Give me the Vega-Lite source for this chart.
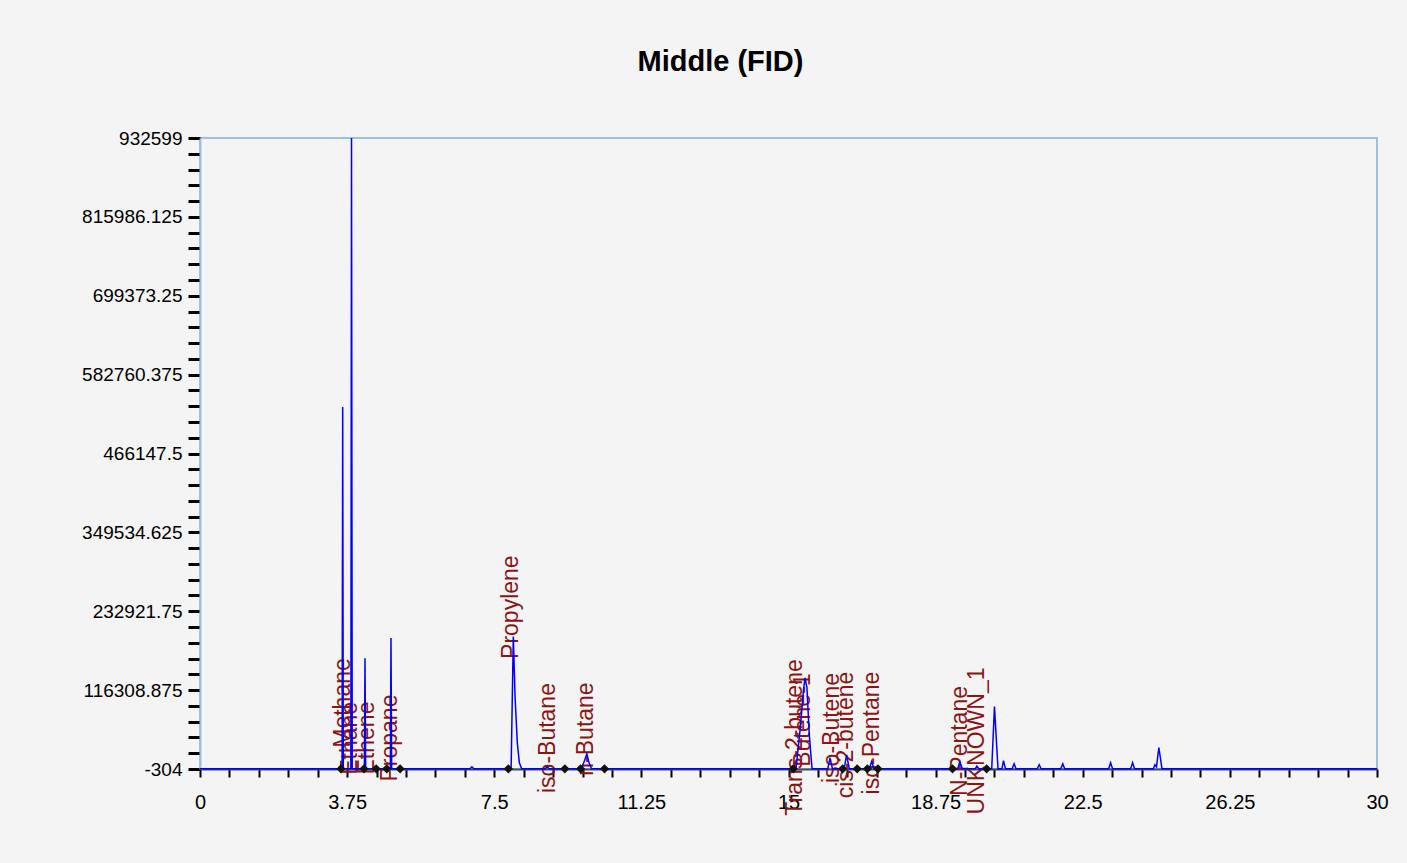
{
  "$schema": "https://vega.github.io/schema/vega-lite/v6.json",
  "width": 1177,
  "height": 631,
  "autosize": {"type": "none"},
  "padding": {"left": 200, "top": 138, "right": 30, "bottom": 94},
  "background": "#f4f4f4",
  "config": {"view": {"stroke": "#9dbfe0", "strokeWidth": 2, "fill": "#f4f4f4"}},
  "title": {
    "text": "Middle (FID)",
    "font": "Liberation Sans, Arial, sans-serif",
    "fontSize": 29,
    "fontWeight": "bold",
    "color": "#000000",
    "anchor": "middle",
    "dx": -68,
    "offset": 52
  },
  "datasets": {
    "trace": [
      {"t": 0, "v": 0},
      {"t": 3.58, "v": 0},
      {"t": 3.622, "v": 0},
      {"t": 3.637, "v": 535000},
      {"t": 3.652, "v": 0},
      {"t": 3.845, "v": 0},
      {"t": 3.862, "v": 932599},
      {"t": 3.88, "v": 0},
      {"t": 4.19, "v": 0},
      {"t": 4.206, "v": 163600},
      {"t": 4.222, "v": 0},
      {"t": 4.852, "v": 0},
      {"t": 4.868, "v": 193200},
      {"t": 4.885, "v": 0},
      {"t": 6.88, "v": 0},
      {"t": 6.93, "v": 3000},
      {"t": 6.98, "v": 0},
      {"t": 7.93, "v": 0},
      {"t": 7.986, "v": 195600},
      {"t": 8.03, "v": 106900},
      {"t": 8.088, "v": 38400},
      {"t": 8.14, "v": 8900},
      {"t": 8.2, "v": 0},
      {"t": 8.8, "v": 0},
      {"t": 8.85, "v": 3000},
      {"t": 8.9, "v": 0},
      {"t": 9.72, "v": 0},
      {"t": 9.8, "v": 12000},
      {"t": 9.86, "v": 22000},
      {"t": 9.92, "v": 8000},
      {"t": 9.98, "v": 0},
      {"t": 15.19, "v": 0},
      {"t": 15.3, "v": 60000},
      {"t": 15.38, "v": 115000},
      {"t": 15.42, "v": 134500},
      {"t": 15.47, "v": 120000},
      {"t": 15.53, "v": 50000},
      {"t": 15.6, "v": 0},
      {"t": 16.0, "v": 0},
      {"t": 16.06, "v": 16000},
      {"t": 16.12, "v": 0},
      {"t": 16.42, "v": 0},
      {"t": 16.48, "v": 20700},
      {"t": 16.55, "v": 0},
      {"t": 17.06, "v": 0},
      {"t": 17.12, "v": 10800},
      {"t": 17.18, "v": 0},
      {"t": 19.31, "v": 0},
      {"t": 19.37, "v": 10000},
      {"t": 19.43, "v": 0},
      {"t": 19.76, "v": 0},
      {"t": 19.8, "v": 4000},
      {"t": 19.85, "v": 0},
      {"t": 20.18, "v": 0},
      {"t": 20.25, "v": 92100},
      {"t": 20.34, "v": 0},
      {"t": 20.44, "v": 0},
      {"t": 20.48, "v": 12000},
      {"t": 20.53, "v": 0},
      {"t": 20.7, "v": 0},
      {"t": 20.75, "v": 7400},
      {"t": 20.8, "v": 0},
      {"t": 21.34, "v": 0},
      {"t": 21.39, "v": 6000},
      {"t": 21.44, "v": 0},
      {"t": 21.94, "v": 0},
      {"t": 21.99, "v": 7400},
      {"t": 22.04, "v": 0},
      {"t": 23.16, "v": 0},
      {"t": 23.21, "v": 8900},
      {"t": 23.26, "v": 0},
      {"t": 23.72, "v": 0},
      {"t": 23.77, "v": 8900},
      {"t": 23.82, "v": 0},
      {"t": 24.3, "v": 0},
      {"t": 24.34, "v": 5900},
      {"t": 24.38, "v": 3000},
      {"t": 24.44, "v": 31500},
      {"t": 24.52, "v": 0},
      {"t": 30, "v": 0}
    ],
    "marks": [
      {"t": 3.594, "v": 0},
      {"t": 4.18, "v": 0},
      {"t": 4.49, "v": 0},
      {"t": 4.76, "v": 0},
      {"t": 5.1, "v": 0},
      {"t": 7.86, "v": 0},
      {"t": 9.3, "v": 0},
      {"t": 9.7, "v": 0},
      {"t": 10.31, "v": 0},
      {"t": 15.12, "v": 0},
      {"t": 16.38, "v": 0},
      {"t": 16.75, "v": 0},
      {"t": 17.01, "v": 0},
      {"t": 17.28, "v": 0},
      {"t": 19.18, "v": 0},
      {"t": 20.05, "v": 0}
    ],
    "labels": [
      {"name": "Methane", "t": 3.645, "v": 97300},
      {"name": "Ethane", "t": 3.823, "v": 45000},
      {"name": "Ethene", "t": 4.257, "v": 45500},
      {"name": "Propane", "t": 4.843, "v": 45500},
      {"name": "Propylene", "t": 7.927, "v": 239000},
      {"name": "iso-Butane", "t": 8.87, "v": 45500},
      {"name": "n-Butane", "t": 9.839, "v": 58800},
      {"name": "Trans-2-butene", "t": 15.166, "v": 46300},
      {"name": "Butene-1", "t": 15.37, "v": 72000},
      {"name": "iso-Butene", "t": 16.109, "v": 60300},
      {"name": "cis-2-butene", "t": 16.466, "v": 50000},
      {"name": "iso-Pentane", "t": 17.129, "v": 52900},
      {"name": "N-Pentane", "t": 19.372, "v": 41100},
      {"name": "UNKNOWN_1", "t": 19.805, "v": 41100}
    ]
  },
  "encoding": {
    "x": {
      "field": "t",
      "type": "quantitative",
      "scale": {"domain": [0, 30], "nice": false, "zero": false},
      "axis": {
        "title": null,
        "grid": false,
        "values": [0, 0.75, 1.5, 2.25, 3, 3.75, 4.5, 5.25, 6, 6.75, 7.5, 8.25, 9, 9.75, 10.5, 11.25, 12, 12.75, 13.5, 14.25, 15, 15.75, 16.5, 17.25, 18, 18.75, 19.5, 20.25, 21, 21.75, 22.5, 23.25, 24, 24.75, 25.5, 26.25, 27, 27.75, 28.5, 29.25, 30],
        "labelExpr": "abs(datum.value / 3.75 - round(datum.value / 3.75)) < 0.0001 ? '' + datum.value : ''",
        "labelOverlap": false,
        "labelFlush": false,
        "domainColor": "#3d4d5d",
        "domainWidth": 2,
        "tickColor": "#000000",
        "tickWidth": 2,
        "tickSize": 8,
        "labelFont": "Liberation Sans, Arial, sans-serif",
        "labelFontSize": 20,
        "labelColor": "#000000",
        "labelPadding": 15
      }
    },
    "y": {
      "field": "v",
      "type": "quantitative",
      "scale": {"domain": [-304, 932599], "nice": false, "zero": false},
      "axis": {
        "title": null,
        "grid": false,
        "values": [-304, 23018.575, 46341.15, 69663.725, 92986.3, 116308.875, 139631.45, 162954.025, 186276.6, 209599.175, 232921.75, 256244.325, 279566.9, 302889.475, 326212.05, 349534.625, 372857.2, 396179.775, 419502.35, 442824.925, 466147.5, 489470.075, 512792.65, 536115.225, 559437.8, 582760.375, 606082.95, 629405.525, 652728.1, 676050.675, 699373.25, 722695.825, 746018.4, 769340.975, 792663.55, 815986.125, 839308.7, 862631.275, 885953.85, 909276.425, 932599],
        "labelExpr": "abs((datum.value + 304) / 116612.875 - round((datum.value + 304) / 116612.875)) < 0.0001 ? '' + datum.value : ''",
        "labelOverlap": false,
        "domainColor": "#9dbfe0",
        "domainWidth": 2,
        "tickColor": "#000000",
        "tickWidth": 3,
        "tickSize": 12,
        "labelFont": "Liberation Sans, Arial, sans-serif",
        "labelFontSize": 19,
        "labelColor": "#000000",
        "labelPadding": 6
      }
    }
  },
  "layer": [
    {
      "data": {"name": "labels"},
      "mark": {"type": "text", "angle": 270, "align": "center", "baseline": "middle", "color": "#8b1414", "font": "Liberation Sans, Arial, sans-serif", "fontSize": 23},
      "encoding": {"text": {"field": "name", "type": "nominal"}}
    },
    {
      "data": {"name": "trace"},
      "mark": {"type": "line", "color": "#0000ff", "strokeWidth": 1.5}
    },
    {
      "data": {"name": "marks"},
      "mark": {"type": "point", "shape": "diamond", "filled": true, "color": "#111111", "opacity": 1, "size": 85}
    }
  ]
}
